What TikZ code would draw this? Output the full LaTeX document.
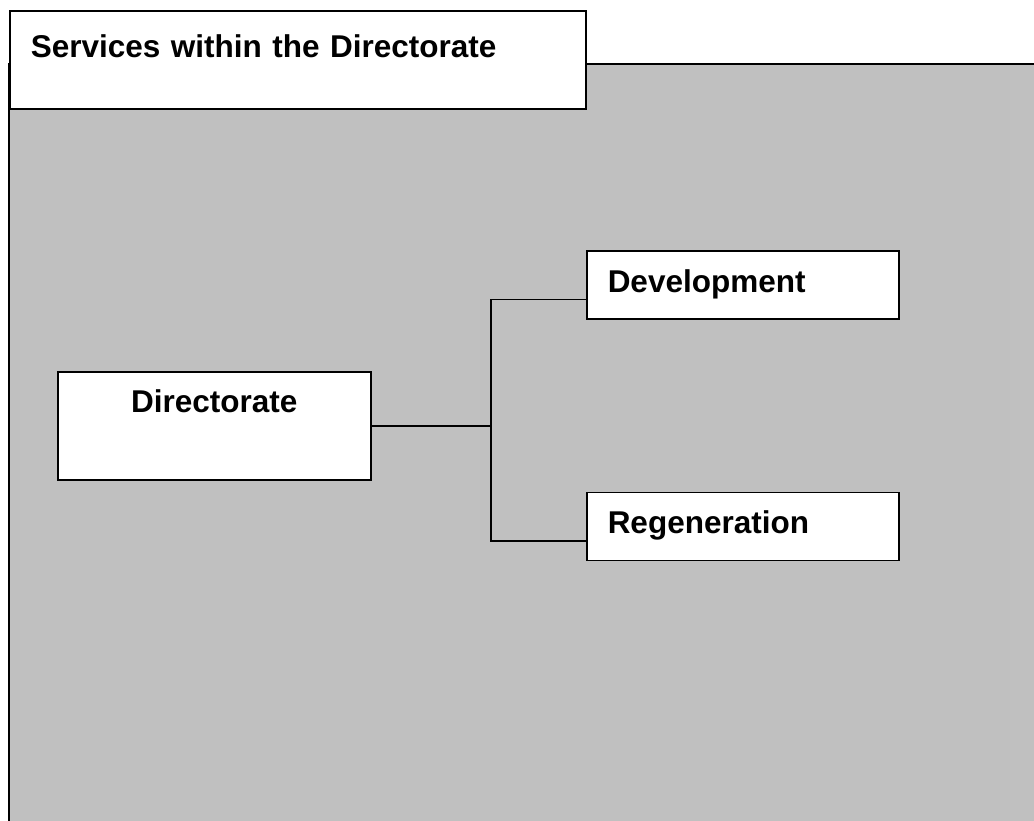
\documentclass[tikz,border=0pt]{standalone}
\usepackage{fontspec}
\setmainfont{Liberation Sans}
\usetikzlibrary{positioning}
\definecolor{panelgray}{RGB}{192,192,192}
\tikzset{
  box/.style = {draw=black, fill=white, line width=1.5pt, inner sep=0pt,
    font=\bfseries\fontsize{31.5}{36}\selectfont},
  lbox/.style = {box, align=left, inner xsep=21pt, text width=270pt},% boite a gauche
  link/.style = {draw, line width=1.5pt},
}
\begin{document}
\begin{tikzpicture}[x=1pt,y=-1pt]
    \useasboundingbox (0,0) rectangle (1034,820);
    \fill[panelgray] (9,64) rectangle (1050,830);
    \draw[line width=1.5pt] (9,830) |- (1050,64);

    \node[box, anchor=north west, align=left, inner xsep=21pt, text width=534pt,
          text height=47pt, text depth=51pt] (title) at (9,10) {Services within the Directorate};
    \node[box, anchor=north west, minimum width=313pt,
          text height=41pt, text depth=67pt] (dir) at (57,371) {Directorate};
    \node[lbox, anchor=north west, text height=42pt, text depth=26pt] (dev) at (586,250) {Development};
    \node[lbox, below=172pt of dev, text height=41pt, text depth=27pt] (reg) {Regeneration};

    \coordinate (junc) at (491,0);
    \path[link] (dir.east) -- (dir.east -| junc);
    \path[link] ([yshift=20pt]dev.south west) -| (dir.east -| junc) |- ([yshift=20pt]reg.south west);
\end{tikzpicture}
\end{document}
